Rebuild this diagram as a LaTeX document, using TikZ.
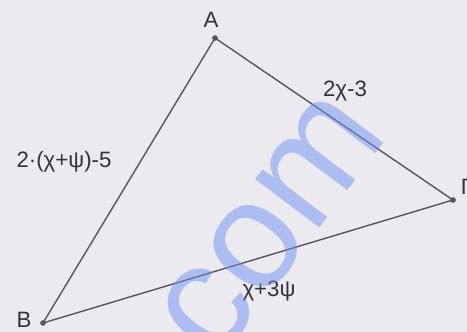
\documentclass[tikz,border=0pt]{standalone}
\usepackage{fontspec}
\setmainfont{Liberation Sans}
\usetikzlibrary{arrows.meta}

\definecolor{paper}{RGB}{235,235,239}
\definecolor{edge}{RGB}{85,85,92}
\definecolor{ink}{RGB}{50,50,55}
\definecolor{mark}{RGB}{110,145,245}

\tikzset{
  side/.style={draw=edge, line width=1.2pt, line cap=round},
  lbl/.style={text=ink, inner sep=0pt, font=\fontsize{19}{21}\selectfont},
  vdot/.style={fill=edge, circle, inner sep=0pt, minimum size=0.17cm}
}

\begin{document}
\begin{tikzpicture}[x=0.03cm, y=-0.03cm]
    % background
    \fill[paper] (0,0) rectangle (467,332);
    \useasboundingbox (0,0) rectangle (467,332);

    % vertices
    \node[vdot] (A) at (215,38)  {};
    \node[vdot] (B) at (43,323)  {};
    \node[vdot] (G) at (453,200) {};

    % sides
    \draw[side] (A.center) -- (B.center) -- (G.center) -- cycle;

    % vertex names
    \node[lbl] (labA) at (211,20)  {A};
    \node[lbl] (labB) at (24,320)  {B};
    \node[lbl] (labG) at (467,187) {Γ};

    % side lengths
    \node[lbl] (sAG) at (345,91)  {2χ-3};
    \node[lbl] (sAB) at (64,162)  {2·(χ+ψ)-5};
    \node[lbl] (sBG) at (269,291) {χ+3ψ};

    % watermark
    \node[text=mark, opacity=0.5, rotate=53, anchor=base, inner sep=0pt,
          font=\fontsize{130}{130}\selectfont] (wm) at (303,250) {com};
\end{tikzpicture}
\end{document}
